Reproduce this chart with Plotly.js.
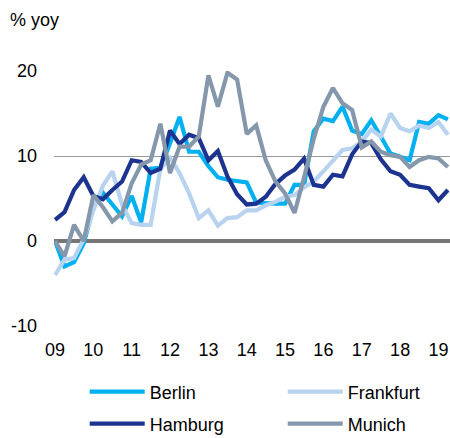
<!DOCTYPE html>
<html>
<head>
<meta charset="utf-8">
<script src="https://cdn.plot.ly/plotly-3.0.1.min.js"></script>
<style>html,body{margin:0;padding:0;background:#fff;}#chart{width:450px;height:438px;}</style>
</head>
<body>
<div id="chart"></div>
<script>
var quarters = [
 '2009-01-01','2009-04-01','2009-07-01','2009-10-01',
 '2010-01-01','2010-04-01','2010-07-01','2010-10-01',
 '2011-01-01','2011-04-01','2011-07-01','2011-10-01',
 '2012-01-01','2012-04-01','2012-07-01','2012-10-01',
 '2013-01-01','2013-04-01','2013-07-01','2013-10-01',
 '2014-01-01','2014-04-01','2014-07-01','2014-10-01',
 '2015-01-01','2015-04-01','2015-07-01','2015-10-01',
 '2016-01-01','2016-04-01','2016-07-01','2016-10-01',
 '2017-01-01','2017-04-01','2017-07-01','2017-10-01',
 '2018-01-01','2018-04-01','2018-07-01','2018-10-01',
 '2019-01-01','2019-04-01'
];
var berlin = [0,-3.0,-2.5,-0.3, 4.0,5.7,4.3,2.9, 5.3,2.2,8.5,8.6, 11.5,14.6,10.5,10.5, 8.8,7.5,7.2,7.1, 6.9,4.5,4.4,4.4, 4.4,6.6,6.6,12.9, 14.4,14.1,15.8,13.0, 12.6,14.2,12.3,10.3, 9.9,9.5,14.0,13.8, 14.8,14.3];
var frankfurt = [-4.0,-2.2,-2.0,0.2, 3.6,6.5,8.2,4.3, 2.1,1.9,1.9,8.5, 9.8,8.0,5.6,2.7, 3.6,1.8,2.7,2.8, 3.6,3.6,4.2,4.6, 5.2,5.4,6.3,7.0, 8.2,9.5,10.7,10.9, 11.7,13.1,12.3,15.0, 13.3,12.9,13.6,13.3, 14.0,12.5];
var hamburg = [2.5,3.4,6.0,7.5, 5.3,4.9,6.0,7.0, 9.5,9.3,8.0,8.5, 13.0,11.4,12.5,12.1, 9.5,10.6,7.6,5.5, 4.3,4.4,5.2,6.7, 7.7,8.4,9.7,6.6, 6.4,7.8,7.6,10.2, 11.7,11.5,9.6,8.2, 7.8,6.6,6.4,6.2, 4.8,6.0];
var munich = [0,-1.8,1.9,0, 5.4,4.0,2.3,3.3, 6.8,9.0,9.5,13.8, 8.0,11.1,11.1,12.3, 19.5,15.8,19.8,19.0, 12.6,13.6,9.5,7.0, 5.6,3.3,7.5,12.0, 15.8,18.0,16.2,15.4, 11.0,11.7,10.5,10.1, 9.9,8.7,9.5,9.9, 9.7,8.7];
var seriesNames = ['Berlin','Frankfurt','Hamburg','Munich'];
var seriesColors = ['#00b0f0','#b7d3f0','#1c338f','#8497ab'];
var yearTicks = ['2009-01-01','2010-01-01','2011-01-01','2012-01-01','2013-01-01','2014-01-01','2015-01-01','2016-01-01','2017-01-01','2018-01-01','2019-01-01'];
var yearLabels = ['09','10','11','12','13','14','15','16','17','18','19'];
var yTicks = [-10,0,10,20];
var yLabels = ['-10','0','10','20'];

var allSeries = [berlin, frankfurt, hamburg, munich];
var legendIds = ['legend','legend2','legend3','legend4'];
var traces = allSeries.map(function(vals, i){
  return {
    x: quarters, y: vals, type: 'scatter', mode: 'lines',
    name: seriesNames[i], legend: legendIds[i],
    line: {color: seriesColors[i], width: 4.2}
  };
});
var font = {family: 'Liberation Sans, Arial, sans-serif', size: 18, color: '#000'};
function legendAt(x, y){
  return {
    orientation: 'h', xanchor: 'left', yanchor: 'middle', x: x, y: y,
    font: font, itemwidth: 55, bgcolor: 'rgba(0,0,0,0)'
  };
}
var col1 = 0.0775, col2 = 0.5775, row1 = -(392-326)/255, row2 = -(424-326)/255;
var layout = {
  width: 450, height: 438,
  margin: {l: 54, r: 0, t: 71, b: 112, pad: 0, autoexpand: false},
  paper_bgcolor: '#fff', plot_bgcolor: '#fff',
  font: font,
  showlegend: true,
  title: {text: '% yoy', font: font, x: 10/450, xanchor: 'left', xref: 'container', y: 1 - 20/438, yref: 'container', yanchor: 'middle'},
  xaxis: {
    type: 'date', range: ['2008-12-22', '2019-04-21'],
    tickvals: yearTicks, ticktext: yearLabels, tickfont: font,
    showgrid: false, zeroline: false, showline: false, ticks: '', ticklabelstandoff: 11
  },
  yaxis: {
    range: [-10, 20], tickvals: yTicks, ticktext: yLabels, tickfont: font,
    showgrid: true, gridcolor: '#9a9a9a', gridwidth: 1,
    zeroline: true, zerolinecolor: '#767676', zerolinewidth: 4.5,
    showline: false, ticks: '', ticklabelstandoff: 16
  },
  legend: legendAt(col1, row1),
  legend2: legendAt(col2, row1),
  legend3: legendAt(col1, row2),
  legend4: legendAt(col2, row2)
};
Plotly.newPlot('chart', traces, layout, {displayModeBar: false, staticPlot: true});
</script>
</body>
</html>
